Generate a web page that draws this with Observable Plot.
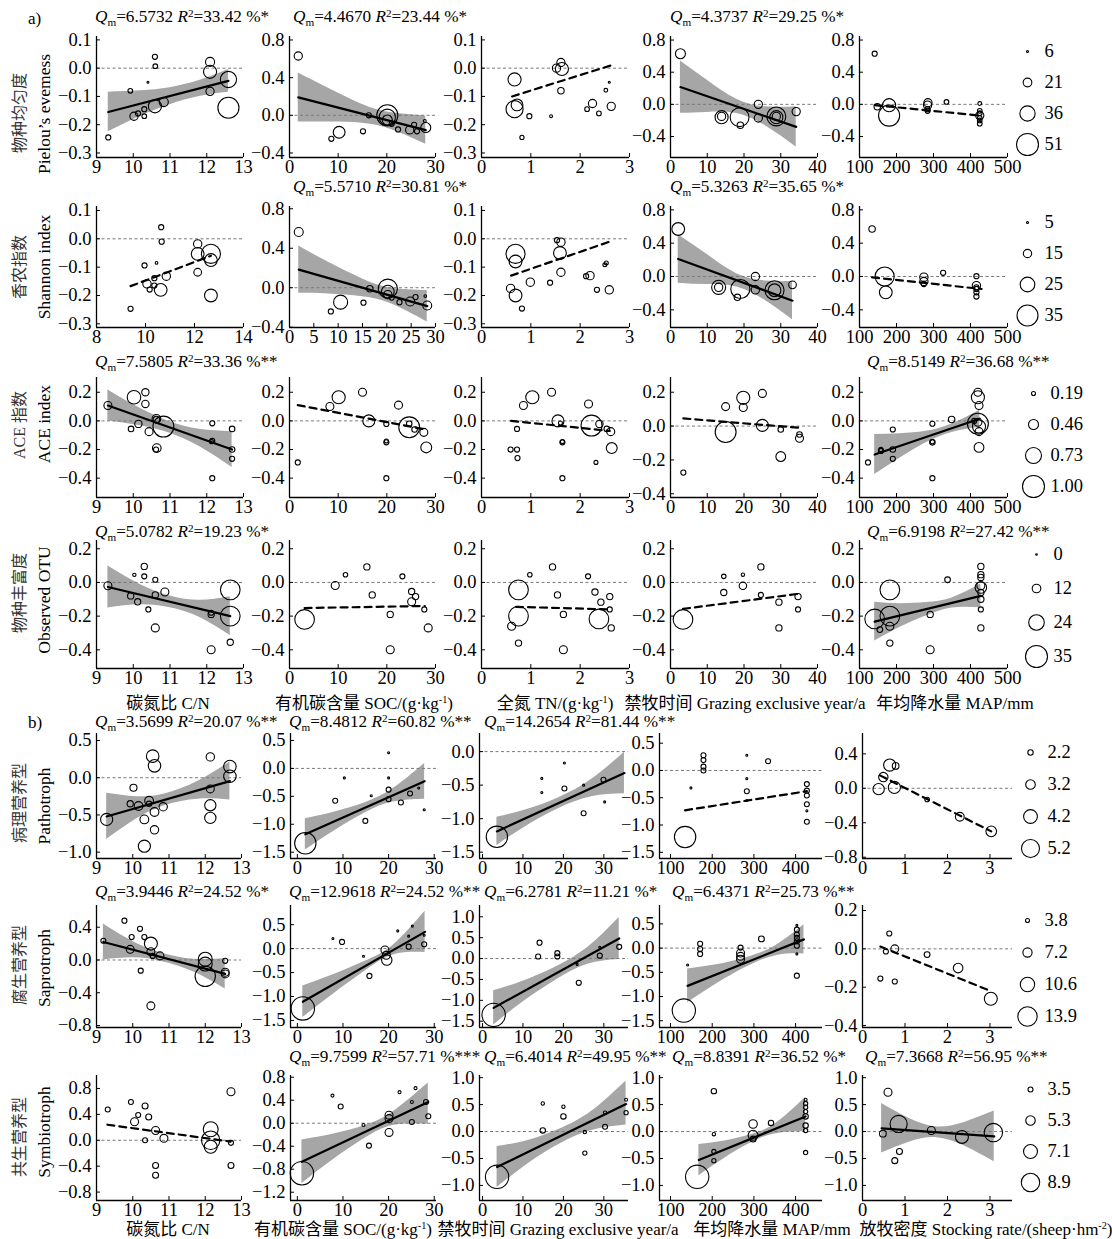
<!DOCTYPE html>
<html>
<head>
<meta charset="utf-8">
<script src="https://cdn.jsdelivr.net/npm/d3@7"></script>
<script src="https://cdn.jsdelivr.net/npm/@observablehq/plot@0.6"></script>
<style>
html,body{margin:0;padding:0;background:#fff;}
#chart{position:relative;width:1112px;height:1239px;overflow:hidden;font-family:"Liberation Serif","Times New Roman","Noto Sans CJK SC",serif;color:#000;}
.abs{position:absolute;white-space:nowrap;line-height:1;}
.ttl{font-size:17.2px;}
.ttl sub,.ttl sup{font-size:0.65em;line-height:0;}
.ttl sub{vertical-align:-0.3em;}
.ttl sup{vertical-align:0.5em;}
.rl-cn{font-size:16px;color:#333;}
.rl-en{font-size:17.5px;}
.xt{font-size:17px;}
.xt sup{font-size:0.6em;vertical-align:0.55em;line-height:0;}
.sec{font-size:17px;}
#chart svg{overflow:visible;}
</style>
</head>
<body>
<div id="chart"></div>
<script>
// ================= DATA =================
// size legends (bubble weights), one per row
const legend1 = [6, 21, 36, 51];
const legend2 = [5, 15, 25, 35];
const legend3 = [0.19, 0.46, 0.73, 1.00];
const legend4 = [0, 12, 24, 35];
const legend5 = [2.2, 3.2, 4.2, 5.2];
const legend6 = [3.8, 7.2, 10.6, 13.9];
const legend7 = [3.5, 5.3, 7.1, 8.9];

// tick values
const xtCN = [9, 10, 11, 12, 13];
const xtCN2 = [8, 10, 12, 14];
const xtSOC = [0, 10, 20, 30];
const xtSOC5 = [0, 5, 10, 15, 20, 25, 30];
const xtTN = [0, 1, 2, 3];
const xtGE = [0, 10, 20, 30, 40];
const xtMAP = [100, 200, 300, 400, 500];
const xtGEb = [0, 10, 20, 30];
const xtMAPb = [100, 200, 300, 400];
const xtSR = [0, 1, 2, 3];
const ytA = [0.1, 0, -0.1, -0.2, -0.3];
const ytB = [0.8, 0.4, 0, -0.4];
const ytC = [0.2, 0, -0.2, -0.4];
const ytD = [0.5, 0, -0.5, -1.0];
const ytE = [0.5, 0, -0.5, -1.0, -1.5];
const ytF = [0, -0.5, -1.0, -1.5];
const ytG = [0.4, 0, -0.4, -0.8];
const ytH = [1.0, 0.5, 0, -0.5, -1.0, -1.5];
const ytJ = [0.8, 0.4, 0, -0.4, -0.8];
const ytK = [0.8, 0.4, 0, -0.4, -0.8, -1.2];
const ytL = [1.0, 0.5, 0, -0.5, -1.0];

// ---- Row 1: Pielou's evenness ----  [x, effect size, weight]
const pts11 = [[9.32,-0.245,13],[9.92,-0.08,12],[10.02,-0.17,20],[10.13,-0.16,13],[10.3,-0.145,13],[10.3,-0.17,12],[10.4,-0.05,6],[10.59,0.04,13],[10.6,0.007,12],[10.59,-0.135,31],[10.83,-0.12,22],[12.09,0.022,22],[12.09,-0.013,31],[12.09,-0.082,20],[12.59,-0.04,38],[12.59,-0.14,49]];
const fit11 = [[9.32,-0.155],[12.59,-0.045]];
const band11 = [[9.32,-0.225,-0.085],[10.2,-0.17,-0.08],[11.0,-0.129,-0.069],[11.8,-0.1,-0.044],[12.59,-0.085,-0.005]];
const pts12 = [[1.8,0.63,20],[8.6,-0.25,13],[10.2,-0.18,28],[15.1,-0.17,13],[16.3,0.0,13],[20.1,0.0,49],[20.1,-0.02,38],[20.1,-0.05,24],[21,-0.09,13],[22.3,-0.15,13],[24.7,-0.155,20],[25.6,-0.1,13],[26.2,-0.17,13],[27.8,-0.06,8],[28.0,-0.13,24]];
const fit12 = [[1.8,0.19],[28.0,-0.157]];
const band12 = [[1.8,-0.07,0.45],[8,-0.072,0.288],[15,-0.085,0.115],[21,-0.154,0.026],[28,-0.307,-0.007]];
const pts13 = [[0.67,-0.04,31],[0.67,-0.145,40],[0.72,-0.13,28],[0.97,-0.17,13],[0.82,-0.245,11],[1.41,-0.17,8],[1.52,0.0,20],[1.61,0.02,20],[1.63,-0.003,31],[1.61,-0.08,16],[2.14,-0.145,12],[2.25,-0.125,20],[2.38,-0.16,12],[2.52,-0.078,10],[2.59,-0.05,6],[2.63,-0.135,20]];
const fit13 = [[0.62,-0.1],[2.63,0.01]];
const pts14 = [[2.7,0.63,24],[13.9,-0.16,31],[13.9,-0.15,20],[18.8,-0.16,44],[19,-0.26,16],[23.9,0.0,20],[23.9,-0.17,20],[28.8,-0.15,44],[28.8,-0.16,31],[28.8,-0.15,20],[34.2,-0.09,20]];
const fit14 = [[2.7,0.215],[34.2,-0.28]];
const band14 = [[2.7,-0.11,0.54],[10,-0.1,0.3],[18,-0.115,0.065],[26,-0.271,-0.031],[34.2,-0.53,-0.03]];
const pts15 = [[141,0.63,13],[148,-0.03,16],[180,-0.01,31],[180,-0.14,49],[284,-0.01,20],[285,0.02,20],[284,-0.06,13],[284,-0.08,13],[335,0.03,12],[425,0.01,10],[425,-0.08,12],[425,-0.11,12],[425,-0.14,20],[425,-0.17,12],[425,-0.2,12],[425,-0.24,12]];
const fit15 = [[141,-0.01],[427,-0.14]];

// ---- Row 2: Shannon index ----
const pts21 = [[9.39,-0.247,10],[9.96,-0.094,10],[10.06,-0.159,15],[10.17,-0.179,10],[10.36,-0.165,10],[10.36,-0.139,10],[10.45,-0.085,6],[10.64,0.041,10],[10.66,-0.01,10],[10.62,-0.18,22],[10.85,-0.132,15],[12.13,-0.018,15],[12.13,-0.053,22],[12.13,-0.118,14],[12.67,-0.053,32],[12.67,-0.075,22],[12.67,-0.2,22]];
const fit21 = [[9.39,-0.167],[12.67,-0.06]];
const pts22 = [[1.9,0.565,16],[8.5,-0.24,10],[10.5,-0.146,24],[15.2,-0.152,10],[16.5,-0.01,12],[20.2,-0.01,32],[20.2,-0.04,22],[20.2,-0.07,15],[21,-0.1,10],[22.6,-0.146,10],[24.8,-0.14,16],[25.9,-0.095,10],[27.9,-0.085,6],[28.3,-0.18,16]];
const fit22 = [[1.9,0.183],[28.3,-0.187]];
const band22 = [[1.9,-0.057,0.423],[8,-0.063,0.257],[15,-0.091,0.089],[21,-0.165,-0.005],[28.3,-0.347,-0.027]];
const pts23 = [[0.69,-0.053,32],[0.69,-0.08,22],[0.59,-0.175,15],[0.69,-0.2,22],[0.82,-0.246,10],[0.99,-0.153,15],[1.39,-0.155,10],[1.53,-0.005,10],[1.61,-0.012,15],[1.59,-0.05,22],[1.61,-0.118,15],[2.12,-0.132,10],[2.2,-0.13,15],[2.34,-0.18,10],[2.5,-0.092,8],[2.53,-0.085,8],[2.59,-0.18,15]];
const fit23 = [[0.6,-0.13],[2.6,-0.01]];
const pts24 = [[2.1,0.57,22],[13.1,-0.13,24],[13.1,-0.13,15],[18.2,-0.25,12],[19,-0.15,32],[23.1,0.0,15],[23.1,-0.16,15],[28.3,-0.165,32],[28.3,-0.165,22],[33.2,-0.1,14]];
const fit24 = [[2.1,0.21],[33.2,-0.29]];
const band24 = [[2.1,-0.08,0.5],[10,-0.097,0.263],[18,-0.126,0.034],[26,-0.294,-0.054],[33.2,-0.52,-0.06]];
const pts25 = [[134,0.57,12],[168,0.0,32],[171,-0.19,22],[274,-0.008,15],[274,-0.06,15],[274,-0.09,10],[326,0.044,10],[416,0.004,10],[416,-0.11,15],[416,-0.13,10],[416,-0.15,10],[416,-0.19,10],[416,-0.24,10]];
const fit25 = [[134,-0.01],[430,-0.15]];

// ---- Row 3: ACE index ----
const pts31 = [[9.31,0.107,0.37],[9.94,-0.056,0.26],[10.02,0.165,0.62],[10.14,-0.021,0.34],[10.33,0.2,0.34],[10.33,0.118,0.34],[10.43,-0.075,0.37],[10.63,0.014,0.4],[10.63,0.01,0.3],[10.64,-0.19,0.4],[10.62,-0.2,0.24],[10.82,-0.04,0.95],[12.15,-0.017,0.24],[12.15,-0.14,0.24],[12.13,-0.145,0.19],[12.15,-0.4,0.24],[12.69,-0.056,0.26],[12.69,-0.2,0.26],[12.69,-0.265,0.24]];
const fit31 = [[9.31,0.107],[12.69,-0.2]];
const band31 = [[9.31,-0.001,0.215],[10.2,-0.034,0.086],[11.0,-0.086,-0.006],[11.8,-0.179,-0.059],[12.69,-0.325,-0.075]];
const pts32 = [[1.7,-0.29,0.24],[8.3,0.1,0.37],[10.1,0.165,0.6],[15.0,0.2,0.37],[16.3,0.0,0.55],[19.9,-0.021,0.24],[19.9,-0.15,0.24],[19.9,-0.14,0.19],[19.9,-0.4,0.24],[22.4,0.11,0.37],[24.6,-0.045,0.95],[24.6,-0.02,0.26],[25.7,-0.06,0.26],[27.6,-0.08,0.37],[28.1,-0.185,0.5]];
const fit32 = [[1.7,0.11],[28,-0.06]];
const pts33 = [[0.59,-0.2,0.24],[0.72,-0.056,0.24],[0.72,-0.2,0.24],[0.73,-0.26,0.24],[0.85,0.107,0.37],[1.03,0.165,0.6],[1.42,0.2,0.37],[1.55,0.0,0.55],[1.6,-0.015,0.19],[1.64,-0.15,0.24],[1.64,-0.145,0.19],[1.64,-0.4,0.24],[2.17,0.118,0.37],[2.32,-0.29,0.19],[2.23,-0.033,0.95],[2.39,-0.021,0.34],[2.54,-0.056,0.26],[2.62,-0.075,0.37],[2.64,-0.19,0.5]];
const fit33 = [[0.6,0.0],[2.6,-0.07]];
const pts34 = [[3.5,-0.275,0.24],[15,0.115,0.37],[15,-0.035,0.95],[19.8,0.167,0.6],[19.8,0.11,0.37],[25,0.193,0.37],[25,0.004,0.55],[30,-0.02,0.26],[30,-0.18,0.45],[35.1,-0.05,0.26],[35.1,-0.072,0.37]];
const fit34 = [[3.5,0.045],[35,-0.01]];
const pts35 = [[123,-0.29,0.24],[158,-0.21,0.24],[158,-0.2,0.2],[190,-0.06,0.24],[190,-0.2,0.26],[190,-0.265,0.24],[297,-0.02,0.24],[297,-0.15,0.26],[297,-0.145,0.2],[297,-0.4,0.24],[349,0.01,0.3],[420,0.2,0.37],[420,0.165,0.6],[423,0.107,0.37],[420,-0.02,0.95],[420,-0.01,0.37],[423,-0.04,0.6],[423,-0.075,0.37],[423,-0.185,0.45],[410,0.0,0.24]];
const fit35 = [[141,-0.235],[425,0.015]];
const band35 = [[141,-0.375,-0.095],[210,-0.259,-0.089],[280,-0.153,-0.073],[350,-0.081,-0.021],[425,-0.045,0.075]];

// ---- Row 4: Observed OTU ----
const pts41 = [[9.31,-0.02,11],[9.93,-0.08,8],[10.03,0.045,3],[10.12,-0.115,8],[10.3,0.095,8],[10.3,0.036,6],[10.41,-0.16,6],[10.6,0.016,6],[10.6,-0.074,8],[10.6,-0.27,11],[10.86,-0.057,11],[12.12,-0.19,8],[12.12,-0.18,6],[12.12,-0.4,11],[12.64,-0.044,31],[12.64,-0.2,31],[12.64,-0.355,8]];
const fit41 = [[9.31,-0.027],[12.64,-0.2]];
const band41 = [[9.31,-0.152,0.098],[10.2,-0.133,-0.013],[11.0,-0.15,-0.08],[11.8,-0.206,-0.106],[12.64,-0.315,-0.085]];
const pts42 = [[3.1,-0.22,31],[9.4,-0.018,11],[11.5,0.046,5],[15.9,0.092,8],[17,-0.074,8],[20.7,-0.19,8],[20.7,-0.4,11],[23.2,0.036,6],[25.1,-0.054,8],[25.9,-0.084,8],[25.1,-0.115,11],[27.7,-0.16,6],[28.5,-0.27,11]];
const fit42 = [[3.1,-0.152],[27.8,-0.14]];
const pts43 = [[0.75,-0.044,31],[0.75,-0.2,31],[0.61,-0.26,11],[0.75,-0.36,8],[0.98,0.046,5],[1.44,0.092,8],[1.54,-0.074,8],[1.66,-0.19,8],[1.66,-0.4,11],[2.16,0.036,6],[2.3,-0.057,8],[2.42,-0.117,8],[2.38,-0.217,31],[2.6,-0.084,8],[2.6,-0.16,6],[2.63,-0.27,8]];
const fit43 = [[0.7,-0.145],[2.6,-0.16]];
const pts44 = [[3.4,-0.22,31],[14.5,-0.06,8],[14.5,0.036,5],[19.7,-0.02,10],[19.7,0.046,3],[24.6,0.092,8],[24.6,-0.074,6],[29.5,-0.117,8],[29.5,-0.27,8],[34.7,-0.084,8],[34.7,-0.16,6]];
const fit44 = [[3.4,-0.157],[34.7,-0.068]];
const pts45 = [[141,-0.217,31],[182,-0.2,31],[182,-0.044,31],[155,-0.28,7],[182,-0.26,11],[182,-0.36,8],[291,-0.19,8],[291,-0.4,11],[338,0.016,7],[428,0.095,8],[428,0.046,8],[428,0.03,8],[428,-0.02,11],[428,-0.03,17],[428,-0.06,8],[428,-0.1,8],[428,-0.16,6],[428,-0.27,8]];
const fit45 = [[141,-0.233],[428,-0.08]];
const band45 = [[141,-0.348,-0.118],[210,-0.266,-0.126],[280,-0.199,-0.119],[350,-0.152,-0.092],[428,-0.15,-0.01]];

// ---- Row 5: Pathotroph ----
const pts51 = [[9.28,-0.56,3.8],[10.02,-0.135,2.6],[9.93,-0.35,2.4],[10.16,-0.38,3.0],[10.32,-0.92,3.8],[10.32,-0.56,3.0],[10.45,-0.31,3.0],[10.45,-0.35,2.2],[10.55,0.29,3.9],[10.6,0.16,3.9],[10.6,-0.46,3.0],[10.6,-0.7,2.9],[10.84,-0.39,2.9],[12.14,0.28,2.9],[12.14,-0.15,2.8],[12.14,-0.37,3.6],[12.14,-0.54,3.6],[12.68,0.15,3.9],[12.68,0.02,3.9]];
const fit51 = [[9.28,-0.52],[12.68,-0.045]];
const band51 = [[9.28,-0.83,-0.21],[10.1,-0.555,-0.255],[10.9,-0.374,-0.214],[11.8,-0.288,-0.048],[12.68,-0.3,0.21]];
const pts52 = [[1.75,-1.34,6.0],[8.3,-0.58,2.1],[10.3,-0.17,1.4],[14.9,-0.94,2.1],[16.2,-0.49,1.4],[20,0.28,1.4],[20,-0.17,1.4],[20,-0.38,2.1],[20,-0.55,2.1],[22.7,-0.61,2.1],[24.7,-0.45,2.1],[26.6,-0.35,1.4],[27.8,-0.74,1.4]];
const fit52 = [[1.75,-1.18],[27.9,-0.23]];
const band52 = [[1.75,-1.46,-0.9],[8,-1.123,-0.783],[15,-0.789,-0.609],[21,-0.601,-0.361],[27.9,-0.55,0.09]];
const pts53 = [[3.55,-1.27,6.0],[14.66,-0.61,1.4],[14.66,-0.4,1.4],[20.25,-0.17,1.4],[20.25,-0.55,2.1],[25,-0.92,2.1],[25,-0.5,1.4],[29.9,-0.42,2.1],[30.2,-0.75,1.4]];
const fit53 = [[3.55,-1.19],[35.1,-0.32]];
const band53 = [[3.55,-1.4,-0.98],[11,-1.105,-0.865],[19,-0.844,-0.684],[27,-0.673,-0.413],[35.1,-0.63,-0.01]];
const pts54 = [[135,-1.22,6.0],[149,-0.32,1.4],[179,0.28,2.1],[179,0.19,2.1],[179,0.07,2.1],[179,0.0,2.1],[283,0.28,1.4],[283,-0.15,1.4],[283,-0.38,2.1],[283,-0.55,1.4],[334,0.17,2.1],[427,-0.25,2.1],[427,-0.37,2.1],[427,-0.46,2.1],[427,-0.62,2.1],[427,-0.74,1.4],[427,-0.94,2.1]];
const fit54 = [[135,-0.73],[427,-0.38]];
const pts55 = [[0.38,-0.01,3.6],[0.49,0.13,3.15],[0.64,0.27,3.8],[0.78,0.26,2.5],[0.75,0.01,3.8],[1.52,-0.13,2.0],[2.29,-0.33,3.0],[3.03,-0.5,3.45]];
const fit55 = [[0.41,0.15],[3.03,-0.5]];

// ---- Row 6: Saprotroph ----
const pts61 = [[9.19,0.235,4.5],[9.77,0.48,4.5],[9.97,0.28,4.5],[9.93,0.13,6.4],[10.2,0.38,4.5],[10.32,0.28,4.5],[10.22,-0.13,4.5],[10.5,0.2,9.7],[10.5,0.1,6.4],[10.55,0.05,4.5],[10.5,-0.56,6.4],[10.75,0.05,6.4],[12.0,0.01,10.3],[12.0,-0.05,10.3],[12.0,-0.2,14.5],[12.55,-0.01,4.5],[12.55,-0.15,6.4],[12.55,-0.17,6.4]];
const fit61 = [[9.19,0.22],[12.55,-0.17]];
const band61 = [[9.19,0.0,0.44],[10,0.026,0.226],[10.8,-0.017,0.083],[11.7,-0.151,0.009],[12.55,-0.355,0.015]];
const pts62 = [[1.2,-1.25,16.5],[7.8,0.21,2.5],[9.8,0.14,4.5],[14.5,-0.16,2.5],[15.8,-0.57,4.5],[19.2,-0.03,6.4],[19.5,-0.14,6.4],[19.6,-0.24,8],[22,0.37,2.5],[24.4,0.04,4.5],[25.2,0.47,2.5],[24.4,0.26,2.5],[27.8,0.09,4.5],[27.8,0.28,2.5]];
const fit62 = [[1.2,-1.11],[28,0.35]];
const band62 = [[1.2,-1.44,-0.78],[8,-0.94,-0.54],[15,-0.458,-0.258],[21,-0.131,0.069],[28,-0.08,0.78]];
const pts63 = [[2.75,-1.35,16.5],[14.1,0.38,4.5],[13.75,0.05,4.5],[18.5,0.13,4.5],[18.5,0.05,4.5],[23.4,-0.14,2.5],[23.8,-0.58,4.5],[29,0.07,4.5],[29,0.27,2.5],[33.8,0.28,4.5]];
const fit63 = [[2.75,-1.18],[33.8,0.48]];
const band63 = [[2.75,-1.59,-0.77],[10,-1.042,-0.542],[18,-0.525,-0.205],[26,-0.137,0.263],[33.8,-0.02,0.98]];
const pts64 = [[132,-1.29,16.5],[141,-0.35,2.5],[171,0.09,4.5],[171,-0.02,4.5],[171,-0.12,4.5],[268,0.01,4.5],[268,-0.1,6.4],[268,-0.17,6.4],[268,-0.23,6.4],[318,0.19,5],[403,0.47,2.5],[403,0.38,4.5],[403,0.28,4.5],[403,0.21,4.5],[403,0.14,4.5],[403,0.05,4.5],[403,-0.12,2.5],[403,-0.57,4.5]];
const fit64 = [[141,-0.78],[420,0.18]];
const band64 = [[141,-1.13,-0.43],[210,-0.743,-0.343],[280,-0.402,-0.202],[350,-0.161,0.039],[420,-0.12,0.48]];
const pts65 = [[0.42,-0.155,4.5],[0.55,-0.014,4.5],[0.63,0.08,4.5],[0.76,0.0,6.4],[0.76,-0.17,4.5],[1.52,-0.03,5],[2.25,-0.1,7.5],[3.02,-0.26,9.7]];
const fit65 = [[0.42,0.012],[3.02,-0.22]];

// ---- Row 7: Symbiotroph ----
const pts71 = [[9.31,0.475,3.5],[9.95,0.59,3.5],[10.05,0.285,4.7],[10.15,0.39,3.5],[10.34,0.53,3.9],[10.34,0.0,3.5],[10.44,0.36,3.9],[10.63,0.15,4.7],[10.63,-0.39,3.9],[10.63,-0.54,3.9],[10.86,0.03,4.7],[12.15,0.17,7.5],[12.15,0.0,8.9],[12.15,-0.1,6.7],[12.71,0.75,4.7],[12.71,-0.04,3.5],[12.71,-0.39,3.9]];
const fit71 = [[9.3,0.24],[12.7,-0.02]];
const pts72 = [[1.0,-0.87,10.9],[7.7,0.48,2.7],[9.5,0.29,3.5],[14.5,-0.03,2.7],[15.7,-0.39,3.5],[20.1,0.14,4.7],[20.1,0.08,4.7],[20.1,-0.16,4.7],[22.4,0.54,2.7],[25.1,0.37,2.7],[25.1,0.02,3.5],[25.9,0.61,2.7],[28.2,0.37,3.5],[28.7,0.12,3.5]];
const fit72 = [[1.0,-0.67],[28.7,0.37]];
const band72 = [[1.0,-1.05,-0.29],[8,-0.627,-0.187],[15,-0.254,-0.034],[21,-0.039,0.201],[28.7,-0.02,0.7]];
const pts73 = [[3.6,-0.84,10.9],[14.9,0.02,3.66],[14.9,0.52,2.85],[20,0.46,2.85],[20,0.28,3.66],[25.3,-0.01,2.85],[25.3,-0.4,3.2],[30.3,0.35,2.85],[30.3,0.09,3.5],[35.5,0.59,2.7],[35.5,0.35,3.2]];
const fit73 = [[3.6,-0.66],[35.5,0.51]];
const band73 = [[3.6,-1.04,-0.28],[11,-0.61,-0.17],[19,-0.236,0.044],[27,0.017,0.377],[35.5,0.12,0.94]];
const pts74 = [[164,-0.84,10.9],[204,0.75,3.66],[204,-0.05,2.85],[204,-0.37,3.2],[204,-0.54,3.2],[298,0.14,4.9],[298,-0.07,5.5],[298,-0.14,3.9],[341,0.16,3.66],[424,0.59,2.7],[424,0.52,3.2],[424,0.45,3.2],[424,0.37,3.2],[424,0.28,3.66],[424,0.11,3.66],[424,0.02,3.2],[424,-0.39,3.2]];
const fit74 = [[168,-0.53],[424,0.28]];
const band74 = [[168,-0.82,-0.24],[230,-0.494,-0.174],[290,-0.224,-0.064],[350,-0.044,0.136],[424,0.0,0.63]];
const pts75 = [[0.48,-0.04,4.2],[0.6,0.73,4.7],[0.85,0.14,8.4],[0.87,-0.37,3.9],[0.76,-0.54,3.9],[1.62,0.02,4.7],[2.34,-0.1,6.7],[3.08,-0.02,8.9]];
const fit75 = [[0.45,0.06],[3.1,-0.09]];
const band75 = [[0.45,-0.4,0.52],[1.1,-0.197,0.243],[1.75,-0.114,0.086],[2.4,-0.27,0.17],[3.1,-0.56,0.38]];

// significance annotations [row, col, Qm, R2 (%), stars]
const qmTitles = [
  [1,1,"6.5732","33.42","*"],[1,2,"4.4670","23.44","*"],[1,4,"4.3737","29.25","*"],
  [2,2,"5.5710","30.81","*"],[2,4,"5.3263","35.65","*"],
  [3,1,"7.5805","33.36","**"],[3,5,"8.5149","36.68","**"],
  [4,1,"5.0782","19.23","*"],[4,5,"6.9198","27.42","**"],
  [5,1,"3.5699","20.07","**"],[5,2,"8.4812","60.82","**"],[5,3,"14.2654","81.44","**"],
  [6,1,"3.9446","24.52","*"],[6,2,"12.9618","24.52","**"],[6,3,"6.2781","11.21","*"],[6,4,"6.4371","25.73","**"],
  [7,2,"9.7599","57.71","***"],[7,3,"6.4014","49.95","**"],[7,4,"8.8391","36.52","*"],[7,5,"7.3668","56.95","**"]
];
const rowLabelsCN = ["物种均匀度","香农指数","ACE 指数","物种丰富度","病理营养型","腐生营养型","共生营养型"];
const rowLabelsEN = ["Pielou’s evemess","Shannon index","ACE index","Observed OTU","Pathotroph","Saprotroph","Symbiotroph"];
const xTitlesA = ["碳氮比 C/N","有机碳含量 SOC/(g·kg<sup>-1</sup>)","全氮 TN/(g·kg<sup>-1</sup>)","禁牧时间 Grazing exclusive year/a","年均降水量 MAP/mm"];
const xTitlesB = ["碳氮比 C/N","有机碳含量 SOC/(g·kg<sup>-1</sup>)","禁牧时间 Grazing exclusive year/a","年均降水量 MAP/mm","放牧密度 Stocking rate/(sheep·hm<sup>-2</sup>)"];

// ================= LAYOUT =================
const colA = [[96,243],[289,435],[481,629],[670,817],[859,1007]];
const colB = [[96,241],[290,436],[479,628],[659,822],[862,1012]];
const rowY = [[36,157],[206,327],[377,497],[540,668],[733,858],[905,1027],[1075,1200]];
const legends = [legend1,legend2,legend3,legend4,legend5,legend6,legend7];
const rRanges = [[1,11],[1,10.5],[2,11],[0.8,11],[2.7,9.0],[2,9.7],[2.5,9.2]];
const legendFmt = [d3.format("d"),d3.format("d"),d3.format(".2f"),d3.format("d"),d3.format(".1f"),d3.format(".1f"),d3.format(".1f")];
const legendPos = [[1027,50,145],[1027,221,315],[1033,392,487],[1036,553,656],[1030,752,848],[1027,919,1016],[1030,1088,1182]];
const titleXA = [95,293,481,670,867];
const titleXB = [95,289,484,672,865];
const titleY = [17,187,362,532,722,892,1057];
const rowLabelY = [[113,114],[267,267],[425,424],[593,600],[803,806],[965,968],[1137,1132]];
const xTitleXA = [168,364,555,745,955];
const xTitleXB = [168,343,558,772,986];

const panels = [
 {r:1,c:1,pts:pts11,fit:fit11,band:band11,xd:[9,13],yd:[-0.316,0.112],xt:xtCN,yt:ytA},
 {r:1,c:2,pts:pts12,fit:fit12,band:band12,xd:[0,30],yd:[-0.448,0.837],xt:xtSOC,yt:ytB},
 {r:1,c:3,pts:pts13,fit:fit13,dash:true,xd:[0,3],yd:[-0.316,0.112],xt:xtTN,yt:ytA},
 {r:1,c:4,pts:pts14,fit:fit14,band:band14,xd:[0,40],yd:[-0.661,0.844],xt:xtGE,yt:ytB},
 {r:1,c:5,pts:pts15,fit:fit15,dash:true,xd:[100,500],yd:[-0.661,0.844],xt:xtMAP,yt:ytB},
 {r:2,c:1,pts:pts21,fit:fit21,dash:true,xd:[8,14],yd:[-0.313,0.114],xt:xtCN2,yt:ytA},
 {r:2,c:2,pts:pts22,fit:fit22,band:band22,xd:[0,30],yd:[-0.403,0.823],xt:xtSOC5,yt:ytB},
 {r:2,c:3,pts:pts23,fit:fit23,dash:true,xd:[0,3],yd:[-0.313,0.114],xt:xtTN,yt:ytA},
 {r:2,c:4,pts:pts24,fit:fit24,band:band24,xd:[0,40],yd:[-0.612,0.84],xt:xtGE,yt:ytB},
 {r:2,c:5,pts:pts25,fit:fit25,dash:true,xd:[100,500],yd:[-0.612,0.84],xt:xtMAP,yt:ytB},
 {r:3,c:1,pts:pts31,fit:fit31,band:band31,xd:[9,13],yd:[-0.535,0.303],xt:xtCN,yt:ytC},
 {r:3,c:2,pts:pts32,fit:fit32,dash:true,xd:[0,30],yd:[-0.535,0.303],xt:xtSOC,yt:ytC},
 {r:3,c:3,pts:pts33,fit:fit33,dash:true,xd:[0,3],yd:[-0.535,0.303],xt:xtTN,yt:ytC},
 {r:3,c:4,pts:pts34,fit:fit34,dash:true,xd:[0,40],yd:[-0.422,0.287],xt:xtGE,yt:ytC},
 {r:3,c:5,pts:pts35,fit:fit35,band:band35,xd:[100,500],yd:[-0.535,0.303],xt:xtMAP,yt:ytC},
 {r:4,c:1,pts:pts41,fit:fit41,band:band41,xd:[9,13],yd:[-0.511,0.249],xt:xtCN,yt:ytC},
 {r:4,c:2,pts:pts42,fit:fit42,dash:true,xd:[0,30],yd:[-0.511,0.249],xt:xtSOC,yt:ytC},
 {r:4,c:3,pts:pts43,fit:fit43,dash:true,xd:[0,3],yd:[-0.511,0.249],xt:xtTN,yt:ytC},
 {r:4,c:4,pts:pts44,fit:fit44,dash:true,xd:[0,40],yd:[-0.511,0.249],xt:xtGE,yt:ytC},
 {r:4,c:5,pts:pts45,fit:fit45,band:band45,xd:[100,500],yd:[-0.511,0.249],xt:xtMAP,yt:ytC},
 {r:5,c:1,pts:pts51,fit:fit51,band:band51,xd:[9,13],yd:[-1.085,0.594],xt:xtCN,yt:ytD},
 {r:5,c:2,pts:pts52,fit:fit52,band:band52,xd:[-1.5,30.5],yd:[-1.613,0.625],xt:xtSOC,yt:ytE},
 {r:5,c:3,pts:pts53,fit:fit53,band:band53,xd:[-0.75,36.1],yd:[-1.594,0.27],xt:xtGEb,yt:ytF},
 {r:5,c:4,pts:pts54,fit:fit54,dash:true,xd:[73.6,464.5],yd:[-1.614,0.678],xt:xtMAPb,yt:ytE},
 {r:5,c:5,pts:pts55,fit:fit55,dash:true,xd:[0,3.53],yd:[-0.815,0.636],xt:xtSR,yt:ytG},
 {r:6,c:1,pts:pts61,fit:fit61,band:band61,xd:[9,13],yd:[-0.824,0.665],xt:xtCN,yt:ytG},
 {r:6,c:2,pts:pts62,fit:fit62,band:band62,xd:[-1.5,30.5],yd:[-1.647,0.9],xt:xtSOC,yt:ytE},
 {r:6,c:3,pts:pts63,fit:fit63,band:band63,xd:[-0.75,36.1],yd:[-1.65,1.27],xt:xtGEb,yt:ytH},
 {r:6,c:4,pts:pts64,fit:fit64,band:band64,xd:[73.6,464.5],yd:[-1.64,0.88],xt:xtMAPb,yt:ytE},
 {r:6,c:5,pts:pts65,fit:fit65,dash:true,xd:[0,3.53],yd:[-0.41,0.226],xt:xtSR,yt:ytC},
 {r:7,c:1,pts:pts71,fit:fit71,dash:true,xd:[9,13],yd:[-0.93,1.0],xt:xtCN,yt:ytJ},
 {r:7,c:2,pts:pts72,fit:fit72,band:band72,xd:[-1.5,30.5],yd:[-1.344,0.83],xt:xtSOC,yt:ytK},
 {r:7,c:3,pts:pts73,fit:fit73,band:band73,xd:[-0.75,36.1],yd:[-1.28,1.04],xt:xtGEb,yt:ytL},
 {r:7,c:4,pts:pts74,fit:fit74,band:band74,xd:[73.6,464.5],yd:[-1.28,1.04],xt:xtMAPb,yt:ytL},
 {r:7,c:5,pts:pts75,fit:fit75,band:band75,xd:[0,3.53],yd:[-1.28,1.04],xt:xtSR,yt:ytL}
];

// ================= RENDER =================
const chart = document.getElementById("chart");
const FONT = "Liberation Serif, Times New Roman, Noto Sans CJK SC, serif";
const fmt1 = d3.format(".1f");

function place(el, left, top) {
  el.style.position = "absolute";
  el.style.left = left + "px";
  el.style.top = top + "px";
  chart.appendChild(el);
}

function makePanel(p) {
  const cols = p.r <= 4 ? colA : colB;
  const [x0, x1] = cols[p.c - 1];
  const [y0, y1] = rowY[p.r - 1];
  const fw = x1 - x0, fh = y1 - y0;
  const mL = 56, mR = 8, mT = 6, mB = 28;
  const leg = legends[p.r - 1];
  const marks = [];
  if (p.band) marks.push(Plot.areaY(p.band, {x: d => d[0], y1: d => d[1], y2: d => d[2], fill: "#a6a6a6", curve: "natural"}));
  marks.push(Plot.ruleY([0], {stroke: "#7a7a7a", strokeWidth: 1, strokeDasharray: "3,2.5"}));
  marks.push(Plot.dot(p.pts, {x: d => d[0], y: d => d[1], r: d => d[2], stroke: "#000", strokeWidth: 1.1, fill: "none"}));
  marks.push(Plot.line(p.fit, {x: d => d[0], y: d => d[1], stroke: "#000", strokeWidth: 2.2, ...(p.dash ? {strokeDasharray: "7,5"} : {})}));
  marks.push(Plot.ruleX([p.xd[0]], {stroke: "#000", strokeWidth: 1.3}));
  marks.push(Plot.ruleY([p.yd[0]], {stroke: "#000", strokeWidth: 1.3}));
  marks.push(Plot.tickY(p.yt, {y: d => d, insetRight: fw - 4, stroke: "#000", strokeWidth: 1}));
  marks.push(Plot.tickX(p.xt, {x: d => d, insetTop: fh - 4, stroke: "#000", strokeWidth: 1}));
  marks.push(Plot.axisY({ticks: p.yt, tickSize: 0, tickPadding: 5, tickFormat: fmt1, label: null, fontSize: 18.5}));
  marks.push(Plot.axisX({ticks: p.xt, tickSize: 0, tickPadding: 2, tickFormat: d => String(d), label: null, fontSize: 18.5}));
  const svg = Plot.plot({
    width: fw + mL + mR, height: fh + mT + mB,
    marginLeft: mL, marginRight: mR, marginTop: mT, marginBottom: mB,
    x: {domain: p.xd}, y: {domain: p.yd},
    r: {type: "linear", domain: [leg[0], leg[leg.length - 1]], range: rRanges[p.r - 1]},
    style: {background: "transparent", fontFamily: FONT, fontSize: "18.5px", color: "#000", overflow: "visible"},
    marks
  });
  place(svg, x0 - mL, y0 - mT);
}

function makeLegend(row) {
  const vals = legends[row - 1];
  const [cx, ya, yb] = legendPos[row - 1];
  const f = legendFmt[row - 1];
  const pad = 16;
  const svg = Plot.plot({
    width: 90, height: yb - ya + 2 * pad, margin: 0,
    x: {domain: [0, 1], range: [pad, 80], axis: null},
    y: {type: "point", domain: vals, range: [pad, pad + yb - ya], padding: 0, axis: null},
    r: {type: "linear", domain: [vals[0], vals[vals.length - 1]], range: rRanges[row - 1]},
    style: {background: "transparent", fontFamily: FONT, fontSize: "18px", color: "#000", overflow: "visible"},
    marks: [
      Plot.dot(vals, {x: () => 0, y: d => d, r: d => d, stroke: "#000", strokeWidth: 1.1, fill: "none"}),
      Plot.text(vals, {x: () => 0, y: d => d, text: d => f(d), dx: 17, textAnchor: "start", fontSize: 18.5})
    ]
  });
  place(svg, cx - pad, ya - pad);
}

function addText(html, cls, left, top, transform) {
  const d = document.createElement("div");
  d.className = "abs " + cls;
  d.innerHTML = html;
  d.style.left = left + "px";
  d.style.top = top + "px";
  if (transform) d.style.transform = transform;
  chart.appendChild(d);
}

panels.forEach(makePanel);
for (let r = 1; r <= 7; r++) makeLegend(r);

qmTitles.forEach(([row, col, q, r2, st]) => {
  const tx = (row <= 4 ? titleXA : titleXB)[col - 1];
  addText(`<i>Q</i><sub>m</sub>=${q} <i>R</i><sup>2</sup>=${r2} %${st}`, "ttl", tx, titleY[row - 1], "translateY(-50%)");
});

rowLabelsCN.forEach((t, i) => {
  addText(t, "rl-cn", 20, rowLabelY[i][0], "translate(-50%,-50%) rotate(-90deg)");
  addText(rowLabelsEN[i], "rl-en", 45, rowLabelY[i][1], "translate(-50%,-50%) rotate(-90deg)");
});

xTitlesA.forEach((t, i) => addText(t, "xt", xTitleXA[i], 703, "translate(-50%,-50%)"));
xTitlesB.forEach((t, i) => addText(t, "xt", xTitleXB[i], 1229, "translate(-50%,-50%)"));
addText("a)", "sec", 28, 18, "translateY(-50%)");
addText("b)", "sec", 28, 722, "translateY(-50%)");
</script>
</body>
</html>
